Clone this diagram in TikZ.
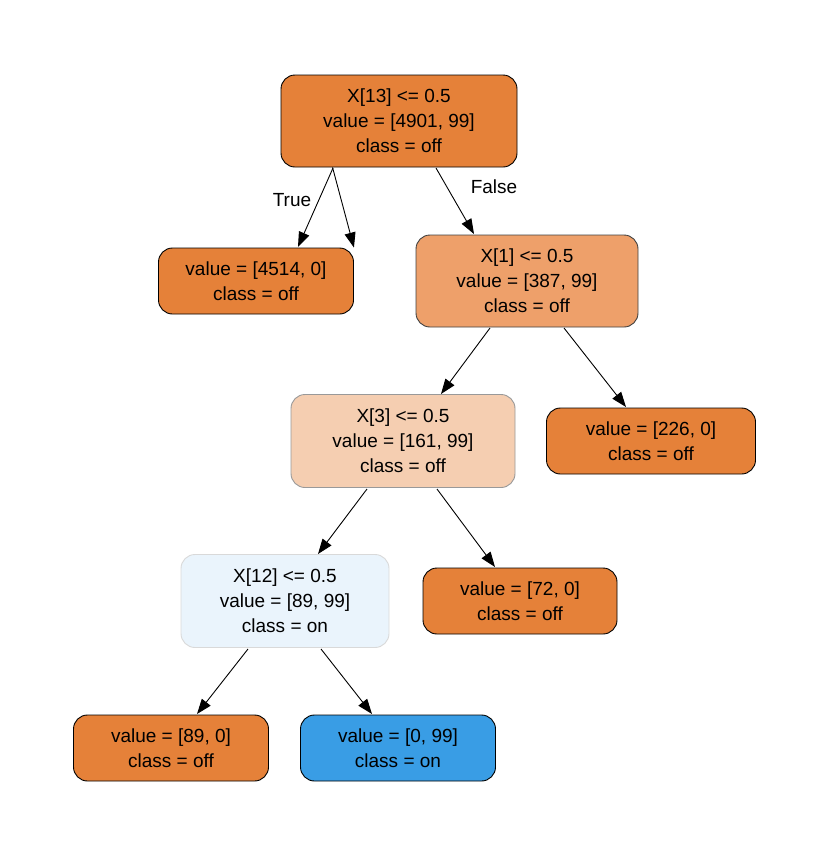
\documentclass[tikz,border=0pt]{standalone}
\usepackage{fontspec}
\setmainfont{Liberation Sans}
\usetikzlibrary{arrows.meta}
\definecolor{org}{HTML}{E58139}
\definecolor{org2}{HTML}{EEA06A}
\definecolor{org3}{HTML}{F5CEB1}
\definecolor{blu1}{HTML}{EAF4FC}
\definecolor{blu}{HTML}{399DE5}
\begin{document}
\begin{tikzpicture}[x=1pt,y=-1pt,
  tn/.style={draw=black,line width=0.9pt,rounded corners=14pt,align=center,inner sep=0pt,
    font=\fontsize{19}{25}\selectfont,minimum height=#1},
  tn/.default=66,
  e/.style={-{Triangle[length=15pt,width=11pt]},line width=0.9pt},
  lab/.style={font=\fontsize{19}{23}\selectfont}]
\useasboundingbox (0,0) rectangle (830,857);
\node[tn=92,fill=org,minimum width=236] (r) at (399,121) {X[13] <= 0.5\\value = [4901, 99]\\class = off};
\node[tn,fill=org,minimum width=195] (l1) at (256,281) {value = [4514, 0]\\class = off};
\node[tn=92,fill=org2,draw=black!75,minimum width=222] (n2) at (527,281) {X[1] <= 0.5\\value = [387, 99]\\class = off};
\node[tn=93,fill=org3,draw=black!40,minimum width=224] (n3) at (403,441) {X[3] <= 0.5\\value = [161, 99]\\class = off};
\node[tn,fill=org,minimum width=209] (l2) at (651,441) {value = [226, 0]\\class = off};
\node[tn=93,fill=blu1,draw=black!15,minimum width=208] (n4) at (285,601) {X[12] <= 0.5\\value = [89, 99]\\class = on};
\node[tn,fill=org,minimum width=194] (l3) at (520,601) {value = [72, 0]\\class = off};
\node[tn,fill=org,minimum width=195] (l4) at (171,748) {value = [89, 0]\\class = off};
\node[tn,fill=blu,minimum width=195] (l5) at (398,748) {value = [0, 99]\\class = on};
\draw[e] (r.south west)++(52,0) coordinate (a1) (a1) -- (l1.north east);
\draw[e] (333,168) -- (298,247);
\draw[e] (436,168) -- (474,234);
\draw[e] (490,328) -- (441,394);
\draw[e] (564,328) -- (626,407);
\draw[e] (367,489) -- (318,554);
\draw[e] (437,489) -- (495,567);
\draw[e] (248,649) -- (197,714);
\draw[e] (321,649) -- (372,714);
\node[lab] (t) at (292,200) {True};
\node[lab] (f) at (494,187) {False};
\end{tikzpicture}
\end{document}
